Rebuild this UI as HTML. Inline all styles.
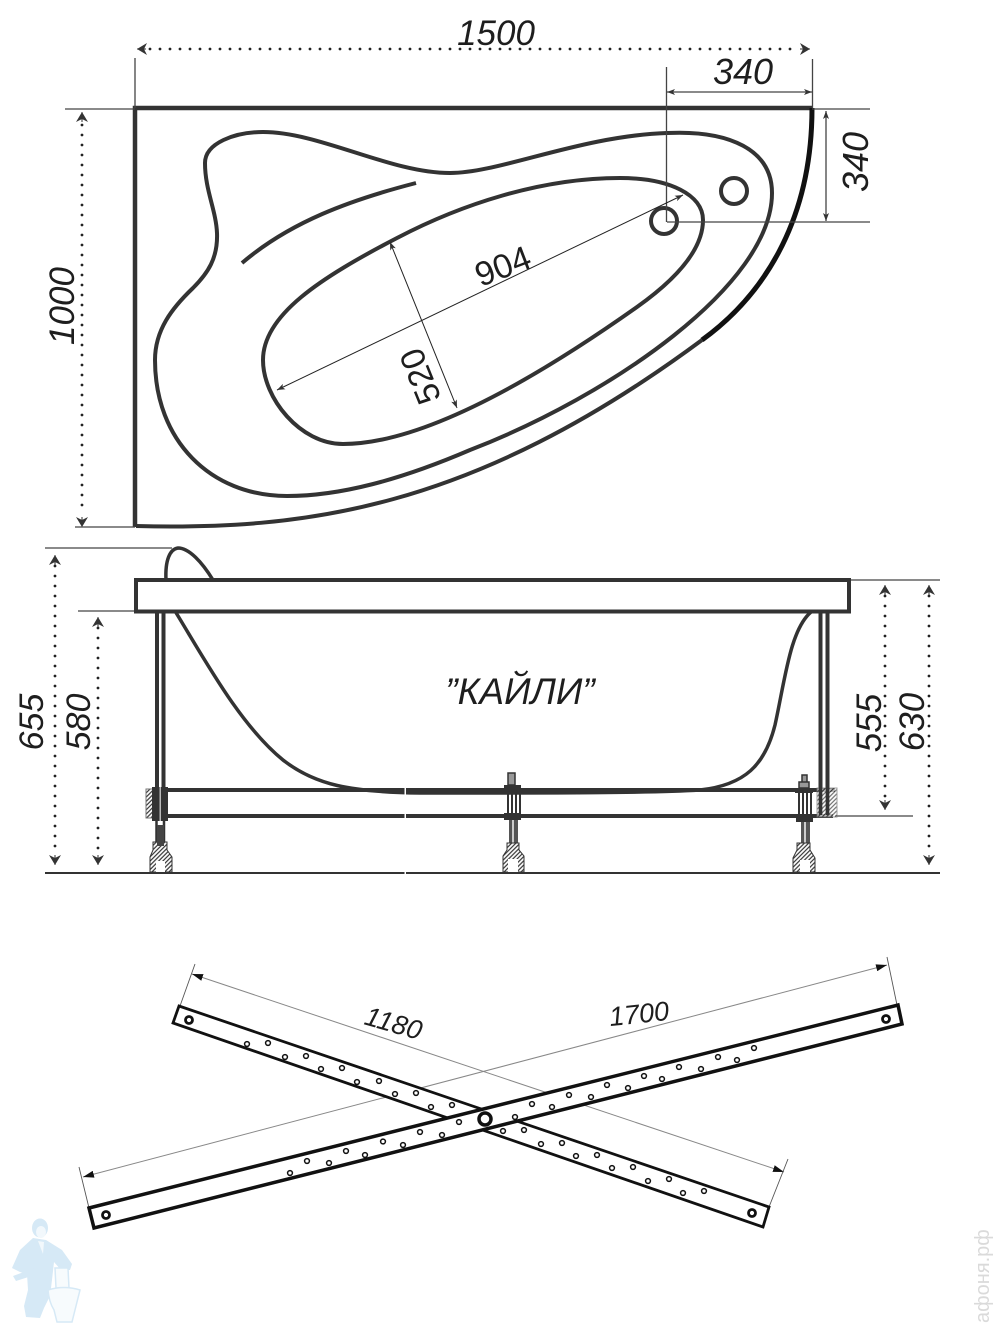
<!DOCTYPE html>
<html><head><meta charset="utf-8"><style>
html,body{margin:0;padding:0;background:#fff}
svg{display:block}
text{font-family:"Liberation Sans",sans-serif;font-style:italic;fill:#1e1e1e}
.d{stroke:#222;stroke-width:2.8;stroke-dasharray:0 10;stroke-linecap:round;fill:none}
.t{stroke:#444;stroke-width:1.3;fill:none}
.s{stroke:#444;stroke-width:1.3;fill:none}
.m{stroke:#333;stroke-width:4;fill:none;stroke-linecap:butt;stroke-linejoin:round}
.h circle{fill:#fff;stroke:#111;stroke-width:1.500;r:2.400px}
</style></head><body>
<svg width="1000" height="1333" viewBox="0 0 1000 1333" xmlns="http://www.w3.org/2000/svg">
<defs>
<marker id="a" viewBox="0 0 10 12" refX="10" refY="6" markerWidth="10" markerHeight="12" markerUnits="userSpaceOnUse" orient="auto-start-reverse"><path d="M10 6L0 0L3 6L0 12Z" fill="#333"/></marker>
<marker id="b" viewBox="0 0 8 6" refX="8" refY="3" markerWidth="8" markerHeight="6" markerUnits="userSpaceOnUse" orient="auto-start-reverse"><path d="M8 3L0 0L2 3L0 6Z" fill="#333"/></marker>
<marker id="c" viewBox="0 0 11 7" refX="11" refY="3.500" markerWidth="11" markerHeight="7" markerUnits="userSpaceOnUse" orient="auto-start-reverse"><path d="M11 3.500L0 0V7Z" fill="#111"/></marker>
<pattern id="hs" width="3" height="3" patternUnits="userSpaceOnUse" patternTransform="rotate(-45)"><rect width="3" height="3" fill="#fff"/><line x1="0" y1="1" x2="3" y2="1" stroke="#333" stroke-width="1.200"/></pattern>
</defs>

<!-- dotted dims -->
<path class="d" d="M150 49H796"/>
<path d="M146 49h-9" stroke="#333" marker-end="url(#a)"/>
<path d="M800 49h10" stroke="#333" marker-end="url(#a)"/>
<path class="d" d="M82 125V514"/>
<path d="M82 122v-10" stroke="#333" marker-end="url(#a)"/>
<path d="M82 517v10" stroke="#333" marker-end="url(#a)"/>
<text x="496" y="45" font-size="35" text-anchor="middle">1500</text>
<text x="743" y="84" font-size="36" text-anchor="middle">340</text>
<text transform="translate(868,162) rotate(-90)" font-size="36" text-anchor="middle">340</text>
<text transform="translate(74,306) rotate(-90)" font-size="35" text-anchor="middle">1000</text>

<!-- bath top outline -->
<path d="M813 108H135V527" fill="none" stroke="#333" stroke-width="4.500"/>
<path d="M136 526C300 530 470 512 702 340" fill="none" stroke="#333" stroke-width="4"/>
<path d="M702 340C760 298 812 225 812 108" fill="none" stroke="#111" stroke-width="5"/>
<!-- rim -->
<path class="m" d="M205 163C205 143 235 132 263 132C320 132 390 173 450 173C500 173 580 136 667 133C730 130 772 150 772 193C772 285 610 396 470 450C400 480 340 496 287 496C210 496 155 440 155 360C155 330 172 308 193 288C208 273 218 258 217 233C216 210 205 190 205 163Z"/>
<!-- basin -->
<path class="m" d="M263 360C263 398 300 444 343 444C430 444 555 365 637 307C675 280 703 250 703 220C703 195 670 178 620 178C540 178 460 205 397 238C320 278 263 315 263 360Z"/>
<!-- ridge -->
<path class="m" d="M242 263C290 222 350 200 416 183"/>
<circle cx="664" cy="221" r="13" fill="#fff" stroke="#333" stroke-width="4"/>
<circle cx="734" cy="191" r="13" fill="#fff" stroke="#333" stroke-width="4"/>
<!-- top extension lines -->
<path class="t" d="M135 58V108M812.500 59V108M666.500 67V222M65 109H135M75 527H135M812 109H870M667 222H870"/>
<path class="s" d="M667 92H812" marker-start="url(#b)" marker-end="url(#b)"/>
<path class="s" d="M826 111V221" marker-start="url(#b)" marker-end="url(#b)"/>
<path d="M277 390L683 195" stroke="#222" stroke-width="1" fill="none" marker-start="url(#b)" marker-end="url(#b)"/>
<path d="M390 242L457 408" stroke="#222" stroke-width="1" fill="none" marker-start="url(#b)" marker-end="url(#b)"/>
<text transform="translate(507,277) rotate(-21)" font-size="34" text-anchor="middle" style="font-style:normal">904</text>
<text transform="translate(431,372) rotate(-112)" font-size="34" text-anchor="middle" style="font-style:normal">520</text>

<!-- side view -->
<path class="t" d="M45 548H172M78 611H136M849 580H940M835 816H913" stroke-width="1.400"/>
<path d="M45 873H940" stroke="#333" stroke-width="2"/>
<path class="d" d="M55 566V854"/><path d="M55 565v-10" stroke="#333" marker-end="url(#a)"/><path d="M55 855v10" stroke="#333" marker-end="url(#a)"/>
<path class="d" d="M98 628V854"/><path d="M98 627v-10" stroke="#333" marker-end="url(#a)"/><path d="M98 855v10" stroke="#333" marker-end="url(#a)"/>
<path class="d" d="M885 596V799"/><path d="M885 595v-10" stroke="#333" marker-end="url(#a)"/><path d="M885 800v10" stroke="#333" marker-end="url(#a)"/>
<path class="d" d="M929 596V854"/><path d="M929 595v-10" stroke="#333" marker-end="url(#a)"/><path d="M929 855v10" stroke="#333" marker-end="url(#a)"/>
<text transform="translate(43,722) rotate(-90)" font-size="34" text-anchor="middle">655</text>
<text transform="translate(90,722) rotate(-90)" font-size="34" text-anchor="middle">580</text>
<text transform="translate(881,723) rotate(-90)" font-size="35" text-anchor="middle">555</text>
<text transform="translate(924,722) rotate(-90)" font-size="35" text-anchor="middle">630</text>
<text x="520" y="704" font-size="37" text-anchor="middle">”КАЙЛИ”</text>

<path d="M166 580C165 560 170 549 178 548C189 548 202 562 213 580" fill="none" stroke="#333" stroke-width="3.500"/>
<rect x="136" y="580" width="713" height="31.500" fill="#fff" stroke="#333" stroke-width="4"/>
<path d="M175 611C205 660 240 725 283 760C315 785 350 792 420 793C560 793 650 793 700 790C745 785 765 765 775 725C785 680 790 630 811 612" fill="none" stroke="#333" stroke-width="3.500"/>
<!-- frame rails -->
<path d="M165 790H835M165 816H833" stroke="#333" stroke-width="4" fill="none"/>
<path d="M157 612V790M163.500 612V790M820.500 612V815M827.500 612V815" stroke="#333" stroke-width="4" fill="none"/>
<!-- left foot -->
<g>
<rect x="146" y="789" width="7" height="29" fill="url(#hs)" stroke="#777" stroke-width="1"/>
<rect x="152" y="787" width="16" height="34" fill="#333"/>
<rect x="159.500" y="787" width="1.500" height="34" fill="#bbb"/>
<path d="M156.500 821V850M164 821V850" stroke="#333" stroke-width="2.500"/>
<path d="M153 842H167V850L172 857V872H150V857L153 850Z" fill="url(#hs)" stroke="#333" stroke-width="1"/>
<path d="M157 825H164V846H157Z" fill="#444"/>
<rect x="156" y="861" width="9" height="11" fill="#fff"/>
</g>
<!-- mid foot -->
<g>
<rect x="508" y="773" width="7" height="12" fill="#999" stroke="#333" stroke-width="1.500"/>
<rect x="504" y="785" width="17" height="8" fill="#333"/>
<path d="M508 793V813M512 793V813M516 793V813M520 793V813" stroke="#333" stroke-width="2" fill="none"/>
<rect x="504" y="813" width="17" height="7" fill="#333"/>
<rect x="509" y="820" width="9" height="24" fill="#555"/>
<rect x="512" y="820" width="2" height="24" fill="#ccc"/>
<path d="M507 843H519V850L524 856V872H503V856L507 850Z" fill="url(#hs)" stroke="#333" stroke-width="1"/>
<rect x="508" y="859" width="10" height="13" fill="#fff"/>
</g>
<!-- right foot -->
<g>
<rect x="817" y="788" width="20" height="29" fill="url(#hs)" opacity=".7" stroke="#777" stroke-width="1"/>
<path d="M820.500 780V815M827.500 780V815" stroke="#333" stroke-width="3.500"/>
<rect x="802" y="775" width="5" height="8" fill="#999" stroke="#333" stroke-width="1.500"/>
<rect x="799" y="782" width="10" height="6" fill="#999" stroke="#333" stroke-width="1.500"/>
<rect x="795" y="788" width="18" height="5" fill="#333"/>
<path d="M799 793V816M803 793V816M807 793V816M811 793V816" stroke="#333" stroke-width="2" fill="none"/>
<rect x="796" y="816" width="17" height="6" fill="#333"/>
<rect x="801" y="822" width="9" height="22" fill="#555"/>
<rect x="804" y="822" width="2" height="22" fill="#ccc"/>
<path d="M797 843H810V850L815 858V872H793V858L797 850Z" fill="url(#hs)" stroke="#333" stroke-width="1"/>
<rect x="800" y="860" width="10" height="12" fill="#fff"/>
</g>
<rect x="404.500" y="786" width="1.500" height="90" fill="#fff"/>

<!-- thin dims on bars -->
<path d="M192 974L784 1172" stroke="#888" stroke-width="1" fill="none" marker-start="url(#c)" marker-end="url(#c)"/>
<path d="M83 1177L887 965" stroke="#888" stroke-width="1" fill="none" marker-start="url(#c)" marker-end="url(#c)"/>
<path d="M195 964L180 1006M788 1159L769 1207M79 1167L89 1208M887 957L897 1005" stroke="#555" stroke-width=".9" fill="none"/>
<text transform="translate(391,1032) rotate(16)" font-size="27" text-anchor="middle">1180</text>
<text transform="translate(640,1023) rotate(-6)" font-size="27" text-anchor="middle">1700</text>

<!-- 1180 bar -->
<path d="M179 1006L769 1207L763 1227L173 1023Z" fill="#fff" stroke="#111" stroke-width="2.800"/>
<g class="h">
<circle cx="247" cy="1044"/><circle cx="285" cy="1057"/><circle cx="321" cy="1069"/><circle cx="357" cy="1082"/><circle cx="395" cy="1094"/><circle cx="431" cy="1107"/><circle cx="503" cy="1131"/><circle cx="541" cy="1144"/><circle cx="576" cy="1156"/><circle cx="612" cy="1168"/><circle cx="648" cy="1181"/><circle cx="683" cy="1193"/>
<circle cx="268" cy="1043"/><circle cx="306" cy="1056"/><circle cx="342" cy="1068"/><circle cx="379" cy="1081"/><circle cx="416" cy="1093"/><circle cx="452" cy="1105"/><circle cx="524" cy="1130"/><circle cx="562" cy="1143"/><circle cx="597" cy="1155"/><circle cx="633" cy="1167"/><circle cx="669" cy="1179"/><circle cx="704" cy="1191"/>
</g>
<circle cx="189" cy="1020" r="3.500" fill="#fff" stroke="#111" stroke-width="2.800"/>
<circle cx="752" cy="1213" r="3.500" fill="#fff" stroke="#111" stroke-width="2.800"/>
<!-- 1700 bar -->
<path d="M89 1208L898 1005L902 1024L94 1228Z" fill="#fff" stroke="#111" stroke-width="3.500"/>
<g class="h">
<circle cx="307" cy="1161"/><circle cx="346" cy="1151"/><circle cx="383" cy="1141.500"/><circle cx="420" cy="1132"/><circle cx="459" cy="1122"/><circle cx="532" cy="1104"/><circle cx="569" cy="1095"/><circle cx="607" cy="1085"/><circle cx="644" cy="1076"/><circle cx="679" cy="1067"/><circle cx="718" cy="1057"/><circle cx="754" cy="1048"/>
<circle cx="290" cy="1173"/><circle cx="329" cy="1163"/><circle cx="365" cy="1155"/><circle cx="403" cy="1145"/><circle cx="442" cy="1135"/><circle cx="515" cy="1117"/><circle cx="552" cy="1107"/><circle cx="591" cy="1097"/><circle cx="628" cy="1088"/><circle cx="662" cy="1079"/><circle cx="701" cy="1069"/><circle cx="737" cy="1060"/>
</g>
<circle cx="485" cy="1119" r="6" fill="#fff" stroke="#111" stroke-width="3.500"/>
<circle cx="106" cy="1215" r="3.500" fill="#fff" stroke="#111" stroke-width="2.800"/>
<circle cx="886" cy="1019" r="3.500" fill="#fff" stroke="#111" stroke-width="2.800"/>

<!-- plumber icon -->
<g fill="#d6e9f6">
<ellipse cx="40" cy="1228" rx="8" ry="9.500"/>
<path d="M33 1238L46 1240L62 1250L72 1264L70 1270L61 1270L54 1262L52 1280L50 1296L44 1308L40 1318L26 1317L24 1306L28 1290L27 1274L20 1272L12 1268L20 1250Z"/>
<path d="M13 1276L40 1266L44 1272L16 1281Z"/>
</g>
<ellipse cx="41" cy="1232" rx="5" ry="6" fill="#f2f8fc"/>
<path d="M38 1241L44 1242L43 1254Z" fill="#f2f8fc"/>
<g fill="#f7fbfd" stroke="#d6e9f6" stroke-width="1.500">
<path d="M55 1268H68L69 1288H56Z"/>
<path d="M48 1290Q64 1285 80 1290L76 1306L72 1322H57L54 1310Q49 1302 48 1290Z"/>
</g>
<!-- watermark -->
<text transform="translate(989,1323) rotate(-90)" font-size="20" style="font-style:normal;fill:#dadada">афоня.рф</text>
</svg>
</body></html>
